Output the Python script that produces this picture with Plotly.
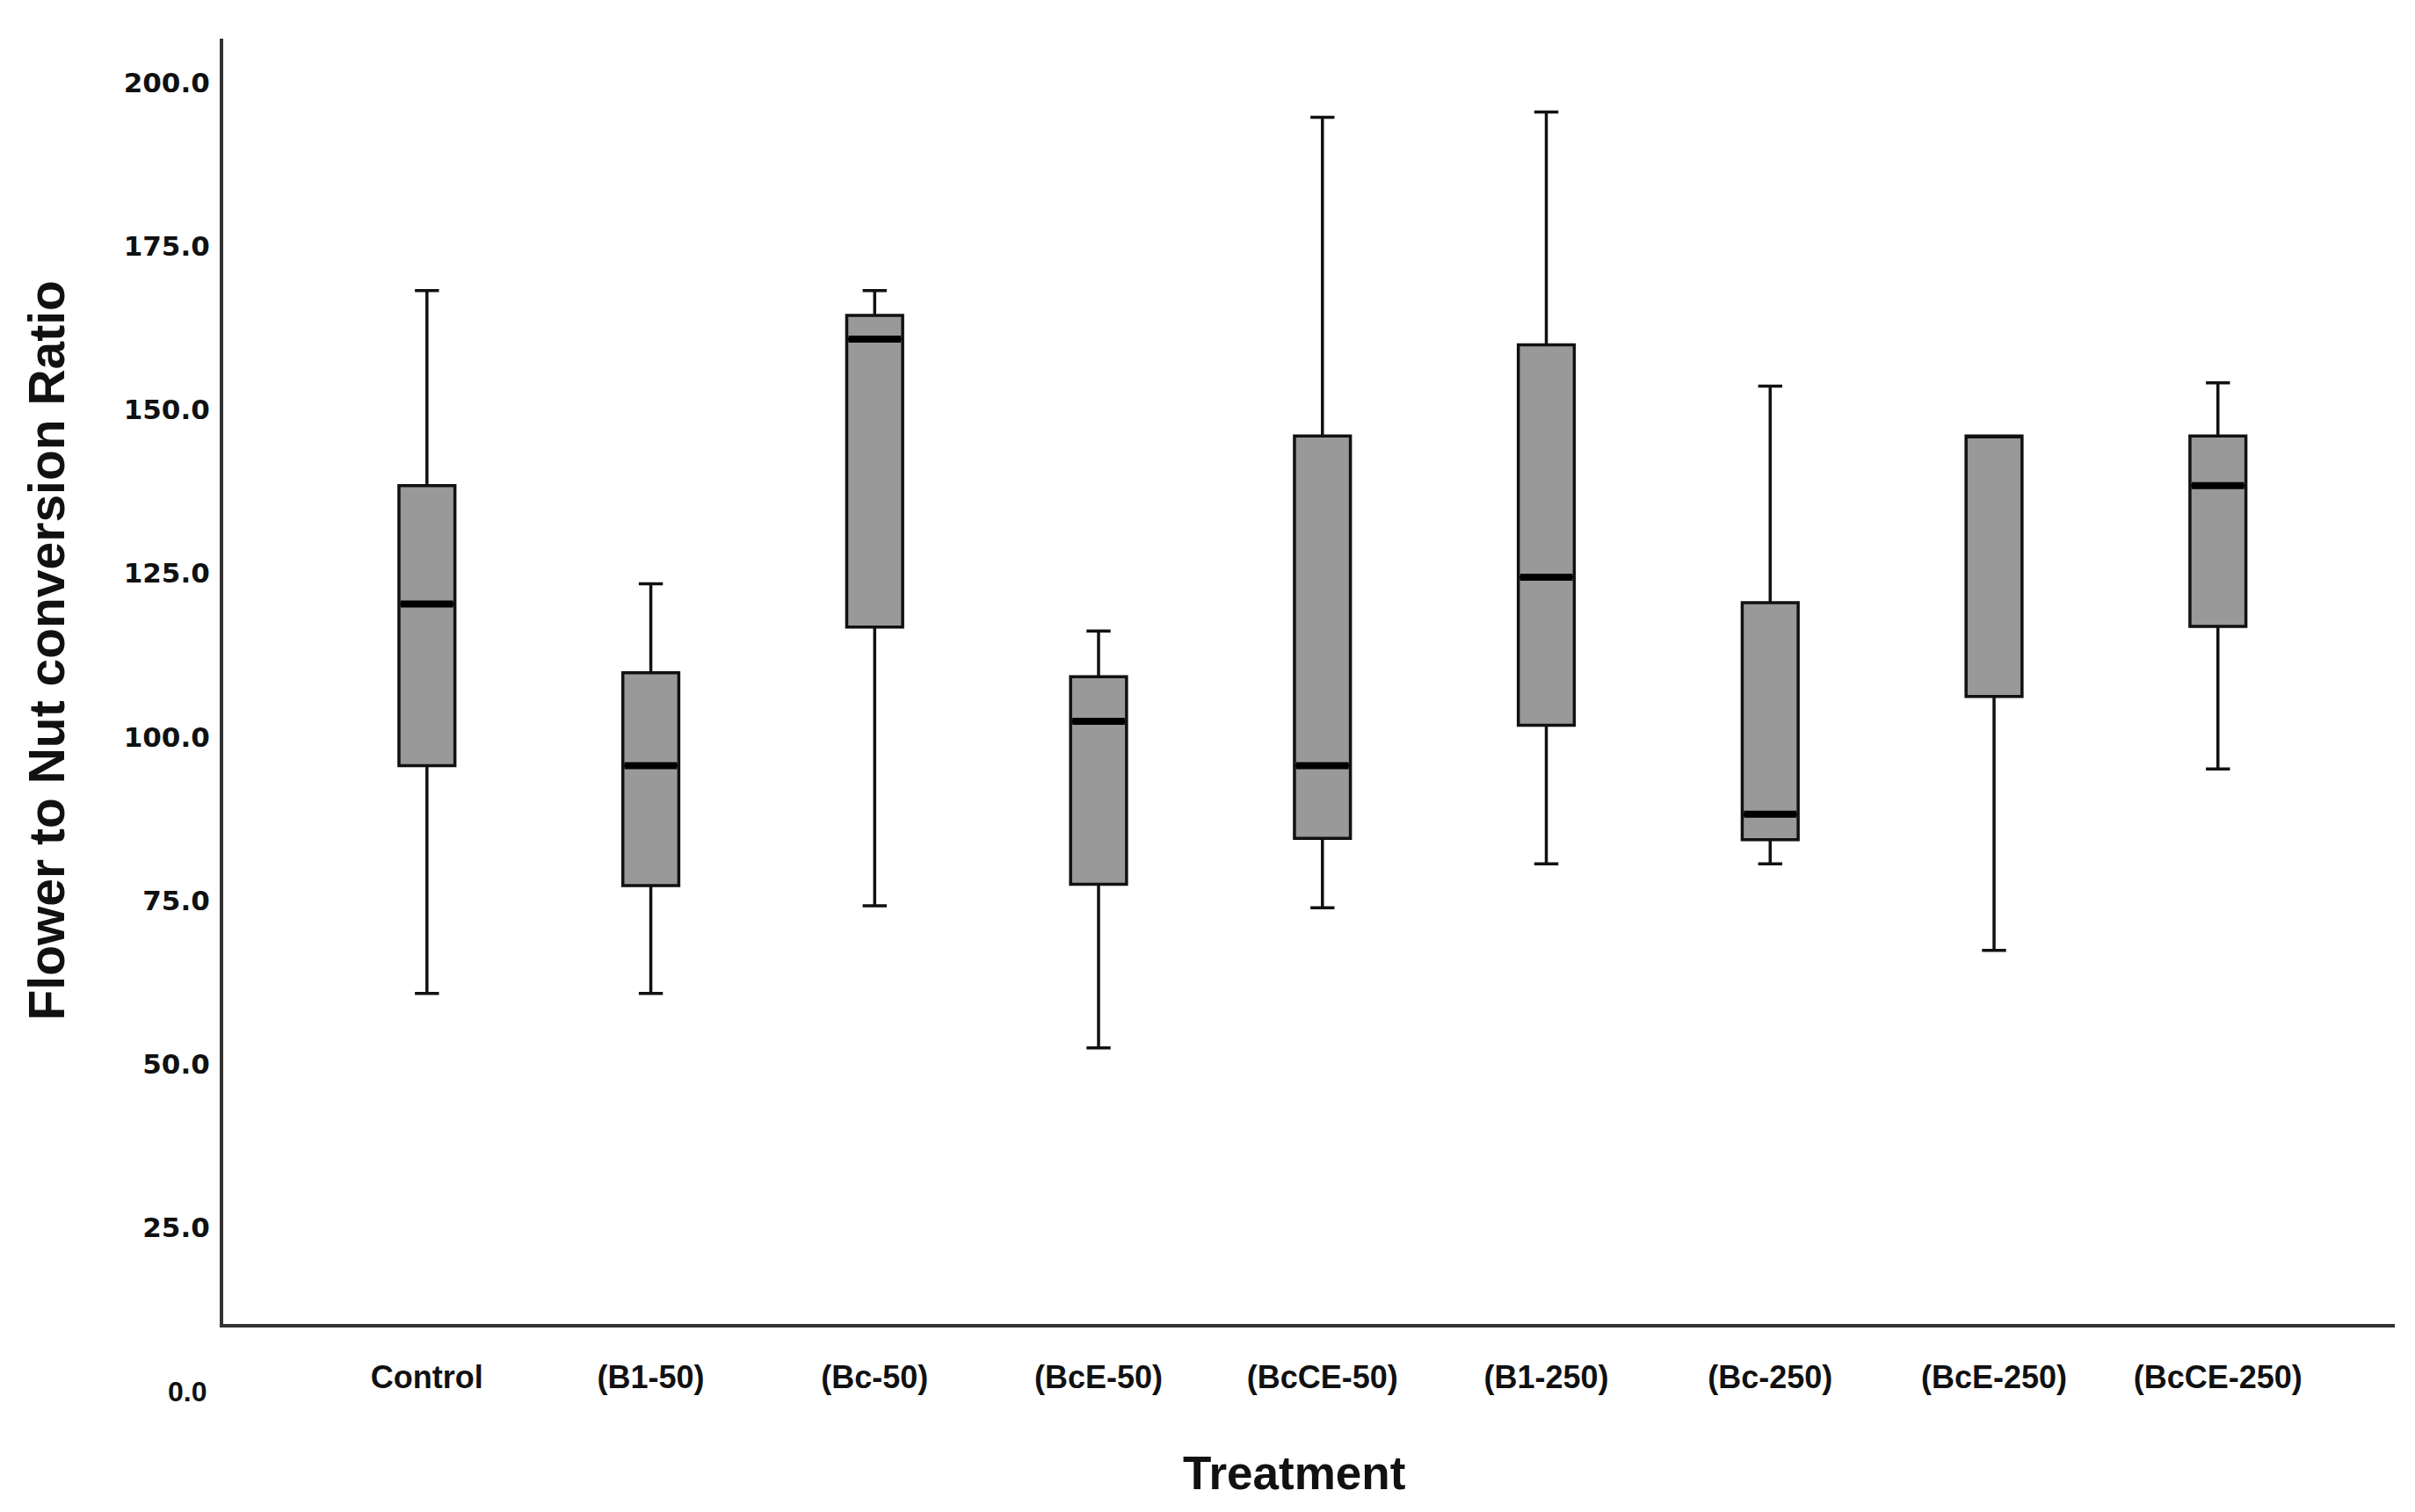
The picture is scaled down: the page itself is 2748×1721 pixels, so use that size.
import plotly.graph_objects as go

# ---- data ----
categories = ["Control", "(B1-50)", "(Bc-50)", "(BcE-50)", "(BcCE-50)",
              "(B1-250)", "(Bc-250)", "(BcE-250)", "(BcCE-250)"]
lower_whisker = [60.8, 60.8, 74.2, 52.5, 73.9, 80.6, 80.6, 67.4, 95.1]
q1_values     = [95.6, 77.3, 116.8, 77.5, 84.5, 101.8, 84.3, 106.2, 116.9]
median_values = [120.3, 95.6, 160.8, 102.4, 95.6, 124.4, 88.2, 146.0, 138.4]
q3_values     = [138.4, 109.8, 164.4, 109.2, 146.0, 159.9, 120.5, 146.0, 146.0]
upper_whisker = [168.2, 123.4, 168.2, 116.2, 194.7, 195.5, 153.6, 146.0, 154.1]
y_tick_values = [25, 50, 75, 100, 125, 150, 175, 200]
y_tick_labels = ["25.0", "50.0", "75.0", "100.0", "125.0", "150.0", "175.0", "200.0"]
zero_label = "0.0"

positions = list(range(len(categories)))
BOX_W = 0.25
Y_MIN, Y_MAX = 10.3, 206.7

SANS = "Liberation Sans, Arial, Helvetica, sans-serif"
WIDE = "DejaVu Sans, Verdana, sans-serif"

fig = go.Figure()
fig.add_trace(go.Box(
    x=positions,
    q1=q1_values, median=median_values, q3=q3_values,
    lowerfence=lower_whisker, upperfence=upper_whisker,
    width=BOX_W, whiskerwidth=0.43,
    fillcolor="#999999",
    line=dict(color="#111111", width=3.5),
    boxpoints=False, showlegend=False, hoverinfo="skip",
))

# thicker median lines (SPSS style), drawn where the median lies inside the box
mx, my = [], []
for p, m, q3 in zip(positions, median_values, q3_values):
    if m < q3:
        mx += [p - BOX_W / 2 + 0.008, p + BOX_W / 2 - 0.008, None]
        my += [m, m, None]
fig.add_trace(go.Scatter(x=mx, y=my, mode="lines",
                         line=dict(color="#000000", width=8),
                         showlegend=False, hoverinfo="skip"))

fig.update_layout(
    width=2740, height=1713,
    margin=dict(l=246, r=23, t=36, b=214),
    paper_bgcolor="white", plot_bgcolor="white",
    xaxis=dict(
        range=[-0.91, 8.79], tickmode="array", tickvals=positions, ticktext=categories,
        showgrid=False, zeroline=False, showline=True, linecolor="#333333", linewidth=4,
        ticks="", ticklabelstandoff=26,
        tickfont=dict(family=SANS, size=36, color="#111111", weight="bold"),
    ),
    yaxis=dict(
        range=[Y_MIN, Y_MAX], tickmode="array", tickvals=y_tick_values, ticktext=y_tick_labels,
        showgrid=False, zeroline=False, showline=True, linecolor="#333333", linewidth=4,
        ticks="", ticklabelstandoff=5,
        tickfont=dict(family=WIDE, size=31, color="#111111", weight="bold"),
    ),
    annotations=[
        dict(text=zero_label, xref="paper", yref="paper", x=0, xshift=-17,
             y=(0 - Y_MIN) / (Y_MAX - Y_MIN), xanchor="right", yanchor="middle",
             showarrow=False, font=dict(family=SANS, size=32, color="#111111", weight="bold")),
        dict(text="Flower to Nut conversion Ratio", xref="paper", yref="paper",
             x=-0.0813, y=0.524, textangle=-90, xanchor="center", yanchor="middle",
             showarrow=False,
             font=dict(family=SANS, size=57, color="#111111", weight="bold")),
        dict(text="Treatment", xref="paper", yref="paper",
             x=0.493, y=-0.116, xanchor="center", yanchor="middle", showarrow=False,
             font=dict(family=SANS, size=53, color="#111111", weight="bold")),
    ],
)

fig.write_html("out.html")
